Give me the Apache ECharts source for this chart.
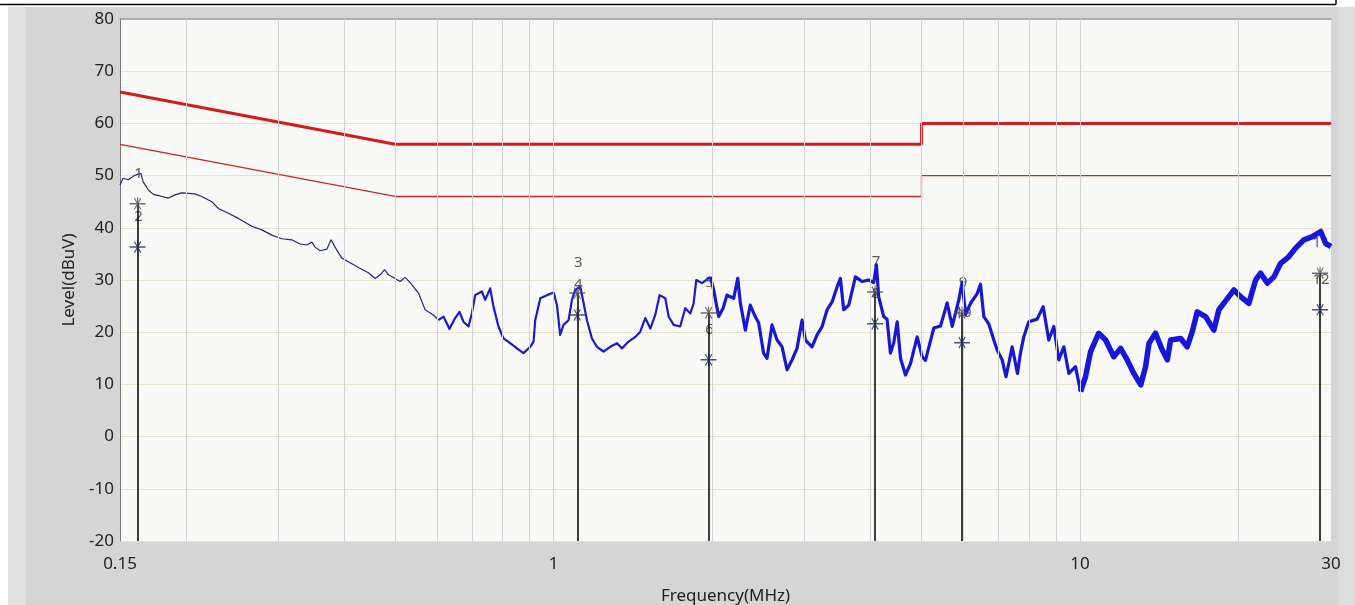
<!DOCTYPE html>
<html><head><meta charset="utf-8">
<script src="https://cdn.jsdelivr.net/npm/echarts@6/dist/echarts.min.js"></script>
<style>html,body{margin:0;padding:0;background:#fff}#c{width:1355px;height:605px}</style>
</head><body><div id="c"></div>
<script>
// ---- data (frequency in MHz, level in dBuV) ----
const traceFreq = [0.150,0.152,0.1556,0.159,0.1625,0.1644,0.166,0.170,0.1736,0.1787,0.1853,0.1908,0.1965,0.2082,0.2145,0.2241,0.2307,0.241,0.2518,0.267,0.279,0.2915,0.3044,0.318,0.3299,0.3396,0.3471,0.3522,0.36,0.3708,0.3777,0.3844,0.3958,0.4074,0.4257,0.4447,0.458,0.4683,0.4772,0.4855,0.50,0.5109,0.5223,0.5337,0.5537,0.570,0.591,0.604,0.6177,0.634,0.650,0.6626,0.6742,0.689,0.6993,0.7096,0.7307,0.7413,0.7577,0.7687,0.7857,0.803,0.827,0.8516,0.8766,0.9029,0.916,0.9228,0.9433,0.9714,1.000,1.0148,1.029,1.0445,1.0676,1.0835,1.099,1.1235,1.137,1.157,1.1826,1.2087,1.244,1.2815,1.3196,1.3488,1.388,1.4295,1.461,1.4934,1.527,1.560,1.590,1.630,1.654,1.691,1.740,1.779,1.819,1.845,1.867,1.914,1.985,2.014,2.059,2.099,2.135,2.199,2.238,2.264,2.314,2.364,2.416,2.452,2.506,2.544,2.600,2.658,2.717,2.777,2.838,2.901,2.965,3.009,3.098,3.167,3.237,3.309,3.382,3.457,3.507,3.558,3.637,3.690,3.745,3.855,3.969,4.057,4.106,4.146,4.238,4.301,4.365,4.429,4.496,4.562,4.662,4.765,4.907,5.015,5.088,5.277,5.434,5.595,5.720,5.887,5.975,6.063,6.195,6.38,6.473,6.568,6.713,6.861,6.963,7.117,7.237,7.326,7.435,7.61,7.71,7.822,7.995,8.295,8.515,8.727,8.922,9.119,9.321,9.527,9.81,10.03,10.25,10.48,10.86,11.19,11.60,11.95,12.30,12.66,13.05,13.33,13.53,13.92,14.34,14.66,14.87,15.54,15.99,16.35,16.71,17.33,17.97,18.37,19.19,19.62,20.2,20.94,21.57,22.05,22.71,23.37,24.07,24.96,25.69,26.65,27.66,28.68,29.31,30.0];
const traceLevel = [48.2,49.5,49.2,49.9,50.3,50.4,48.8,47.2,46.4,46.1,45.7,46.3,46.7,46.5,46.0,45.0,43.7,42.8,41.8,40.3,39.6,38.6,37.9,37.7,36.9,36.7,37.3,36.3,35.6,35.9,37.7,36.3,34.2,33.5,32.4,31.4,30.3,31.0,32.0,31.0,30.3,29.7,30.5,29.5,27.5,24.3,23.3,22.3,23.0,20.6,22.7,23.9,22.0,21.1,23.6,27.1,27.8,26.2,28.4,24.9,21.1,18.8,17.9,16.9,16.0,17.2,18.2,22.3,26.5,27.1,27.6,25.2,19.5,21.4,22.3,26.2,28.1,28.7,26.2,22.3,18.8,17.2,16.3,17.2,17.9,16.9,18.2,19.1,20.1,22.7,20.7,23.3,27.1,26.5,23.0,21.4,21.1,24.6,23.6,25.5,30.0,29.4,30.6,28.1,23.0,24.6,27.1,26.5,30.3,25.6,20.4,25.2,23.0,21.8,16.0,15.0,21.4,18.5,17.2,12.8,14.7,16.9,22.3,18.5,17.2,19.5,21.1,24.3,25.8,28.7,30.3,24.3,25.2,27.8,30.6,29.7,30.0,29.5,32.9,26.8,23.0,22.5,16.0,18.0,22.0,15.0,11.8,14.0,19.1,15.3,14.6,20.8,21.2,25.6,21.1,26.2,29.6,23.4,25.5,27.4,29.2,23.0,21.6,18.5,16.6,14.7,11.5,14.0,17.2,12.1,16.0,19.1,22.0,22.5,24.9,18.5,21.1,14.7,17.2,12.1,13.4,8.6,11.5,16.3,19.8,18.5,15.3,16.9,14.7,12.1,9.9,13.4,17.9,19.8,16.6,14.7,18.5,18.8,17.2,20.1,23.9,23.0,20.4,24.3,26.8,28.1,26.8,25.5,30.0,31.3,29.4,30.6,33.2,34.5,36.1,37.7,38.3,39.3,37.0,36.4];
const qpLimitFreq = [0.15, 0.5, 5, 5, 30];
const qpLimitLevel = [66, 56, 56, 60, 60];
const avLimitFreq = [0.15, 0.5, 5, 5, 30];
const avLimitLevel = [56, 46, 46, 50, 50];
const markerFreq = [0.162, 1.109, 1.97, 4.08, 5.97, 28.6];
const markerQP = [44.6, 27.5, 23.7, 27.7, 23.7, 31.3];
const markerAVG = [36.3, 23.3, 14.7, 21.6, 18.0, 24.3];
const markerQPNo = ['1','3','5','7','9','11'];
const markerAVGNo = ['2','4','6','8','10','12'];
const xTickLabels = ['0.15','1','10','30'];
const yTickLabels = ['-20','-10','0','10','20','30','40','50','60','70','80'];
const gridFreqs = [0.2,0.3,0.4,0.5,0.6,0.7,0.8,0.9,1,2,3,4,5,6,7,8,9,10,20];

// ---- build ----
const pairs = (xs, ys) => xs.map((x, i) => [x, ys[i]]);
const seg = (lo, hi) => traceFreq.map((f, i) => [f, traceLevel[i]]).filter(p => p[0] >= lo && p[0] <= hi);
const FONT = '"Noto Sans", "DejaVu Sans", sans-serif';
const starPath = 'path://M0,9.2H20V10.8H0Z M9.3,3H10.7V17H9.3Z M5.5,4.5L6.5,3.5L14.5,15.5L13.5,16.5Z M13.5,3.5L14.5,4.5L6.5,16.5L5.5,15.5Z';
const markLabel = {show: true, position: 'top', distance: 5, offset: [1, -17.5], formatter: p => p.data[2],
  color: '#333', fontSize: 15, fontFamily: FONT};

const chart = echarts.init(document.getElementById('c'), null, {renderer: 'canvas'});
chart.setOption({
  animation: false,
  backgroundColor: '#d5d5d5',
  graphic: [
    {type: 'rect', left: 0, top: 0, shape: {width: 8, height: 605}, style: {fill: '#ffffff'}, z: -10},
    {type: 'rect', left: 8, top: 7, shape: {width: 18, height: 598}, style: {fill: '#e2e2e2'}, z: -10},
    {type: 'rect', left: 1338, top: 7, shape: {width: 17, height: 598}, style: {fill: '#dcdcdc'}, z: -10},
    {type: 'rect', left: 0, top: 0, shape: {width: 1355, height: 7}, style: {fill: '#ffffff'}, z: -10},
    {type: 'line', shape: {x1: 0, y1: 4.5, x2: 1336, y2: 4.5}, style: {stroke: '#000', lineWidth: 1.5}, z: -9},
    {type: 'line', shape: {x1: 1336, y1: 0, x2: 1336, y2: 4.5}, style: {stroke: '#000', lineWidth: 1.5}, z: -9}
  ],
  grid: {left: 120, right: 24, top: 19, bottom: 64, show: true, backgroundColor: '#f9f9f8', borderWidth: 0,
    containLabel: false, outerBoundsMode: 'none'},
  xAxis: [{
    type: 'log', logBase: 10, min: 0.15, max: 30,
    name: 'Frequency(MHz)', nameLocation: 'middle', nameGap: 47,
    nameTextStyle: {color: '#222', fontSize: 17, fontFamily: FONT},
    axisLine: {show: false}, axisTick: {show: false}, splitLine: {show: false},
    axisLabel: {
      color: '#222', fontSize: 17, fontFamily: FONT, margin: 15, showMinLabel: true, showMaxLabel: true,
      formatter: v => { const s = String(+(+v).toPrecision(3)); return xTickLabels.indexOf(s) >= 0 ? s : ''; }
    }
  }, {
    type: 'log', logBase: 10, min: 0.15, max: 30, position: 'top',
    axisLine: {show: true, lineStyle: {color: '#a0a0a0', width: 1.5}},
    axisTick: {show: false}, axisLabel: {show: false}, splitLine: {show: false}
  }],
  yAxis: {
    type: 'value', min: -20, max: 80, interval: 10,
    name: 'Level(dBuV)', nameLocation: 'middle', nameGap: 42, nameRotate: 90,
    nameTextStyle: {color: '#222', fontSize: 17, fontFamily: FONT},
    axisLine: {show: true, lineStyle: {color: '#7a7a7a', width: 1}},
    axisTick: {show: false},
    axisLabel: {color: '#222', fontSize: 17, fontFamily: FONT, margin: 6,
      formatter: v => yTickLabels.indexOf(String(v)) >= 0 ? String(v) : ''},
    splitLine: {show: true, lineStyle: {color: '#e6e1c8', width: 1}}
  },
  series: [
    {
      type: 'line', name: 'vgrid', data: [[0.15, -20]], showSymbol: false, silent: true, z: 1,
      lineStyle: {opacity: 0},
      markLine: {silent: true, symbol: ['none', 'none'], label: {show: false},
        lineStyle: {color: '#d2d2d2', width: 1, type: 'solid'},
        data: gridFreqs.map(f => ({xAxis: f}))}
    },
    {type: 'line', name: 'QP limit', data: pairs(qpLimitFreq, qpLimitLevel), showSymbol: false, z: 3,
      lineStyle: {color: '#d41a1a', width: 3}},
    {type: 'line', name: 'AV limit', data: pairs(avLimitFreq, avLimitLevel), showSymbol: false, z: 3,
      lineStyle: {color: '#c62828', width: 1.3}},
    {type: 'scatter', name: 'QP no', z: 3, silent: true, symbolSize: 0,
      data: markerFreq.map((f, i) => [f, markerQP[i], markerQPNo[i]]), label: markLabel},
    {type: 'scatter', name: 'AVG no', z: 3, silent: true, symbolSize: 0,
      data: markerFreq.map((f, i) => [f, markerAVG[i], markerAVGNo[i]]), label: markLabel},
    {type: 'line', name: 'trace1', data: seg(0.15, 0.604), showSymbol: false, z: 4,
      lineStyle: {color: '#25257e', width: 1.2}},
    {type: 'line', name: 'trace2', data: seg(0.604, 1.99), showSymbol: false, z: 4,
      lineStyle: {color: '#1c1cc4', width: 2.2, join: 'round'}},
    {type: 'line', name: 'trace3', data: seg(1.98, 10.03), showSymbol: false, z: 4,
      lineStyle: {color: '#1818d2', width: 3.2, join: 'round'}},
    {type: 'line', name: 'trace4', data: seg(10.03, 30), showSymbol: false, z: 4,
      lineStyle: {color: '#1616dc', width: 5.5, join: 'round'}},
    {
      type: 'scatter', name: 'QP', z: 6,
      data: markerFreq.map((f, i) => [f, markerQP[i]]),
      symbol: starPath, symbolSize: [16, 13], itemStyle: {color: '#4a4a4a'},
      markLine: {silent: true, symbol: ['none', 'none'], label: {show: false},
        lineStyle: {color: '#000', width: 1.5, type: 'solid'},
        data: markerFreq.map((f, i) => [{coord: [f, markerQP[i]]}, {coord: [f, -20]}])}
    },
    {
      type: 'scatter', name: 'AVG', z: 6,
      data: markerFreq.map((f, i) => [f, markerAVG[i]]),
      symbol: starPath, symbolSize: [16, 13], itemStyle: {color: '#1e2a5c'}
    }
  ]
});
</script>
</body></html>
